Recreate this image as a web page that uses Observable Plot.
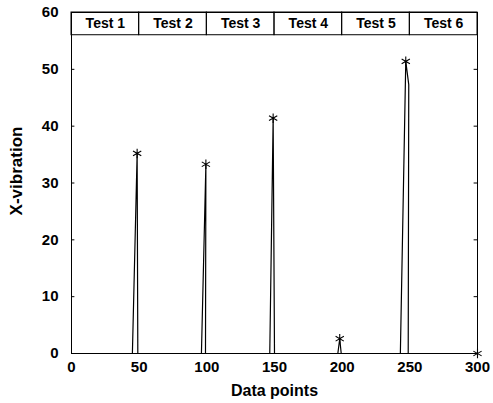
<!DOCTYPE html>
<html><head><meta charset="utf-8">
<script src="https://cdn.jsdelivr.net/npm/d3@7"></script>
<script src="https://cdn.jsdelivr.net/npm/@observablehq/plot@0.6"></script>
<style>body{margin:0;background:#fff}</style>
</head><body><div id="chart"></div>
<script>
// Vibration trace vertices (data point index, X-vibration)
const pointX    = [0, 45, 48.5, 49, 96, 99.3, 99, 146.5, 149, 150, 196.8, 198.2, 199.3, 243, 247, 249.2, 248.8, 300];
const vibration = [0, 0, 35.2, 0, 0, 33.3, 0, 0, 41.4, 0, 0, 2.6, 0, 0, 51.4, 47.3, 0, 0];
// Peak markers
const peakX = [48.5, 99.3, 149, 198.2, 247, 300];
const peakY = [35.2, 33.3, 41.4, 2.6, 51.4, 0];
// Test segments
const testLabels = ["Test 1", "Test 2", "Test 3", "Test 4", "Test 5", "Test 6"];
const testStart = [0, 50, 100, 150, 200, 250];
const testEnd = [50, 100, 150, 200, 250, 300];
const headerLow = 56, headerHigh = 60;
// Ticks
const xTicks = [0, 50, 100, 150, 200, 250, 300];
const yTicks = [0, 10, 20, 30, 40, 50, 60];

const trace = pointX.map((x, i) => ({x, y: vibration[i]}));
const peaks = peakX.map((x, i) => ({x, y: peakY[i]}));
const tests = testLabels.map((label, i) => ({label, s: testStart[i], e: testEnd[i]}));
const innerTicks = yTicks.slice(1, -1);

const chart = Plot.plot({
  width: 493, height: 403,
  marginLeft: 71, marginRight: 16, marginTop: 12, marginBottom: 50,
  x: {domain: [0, 300]},
  y: {domain: [0, 60]},
  style: {fontFamily: "'Liberation Sans', Arial, sans-serif", fontSize: "15px", fontWeight: "bold", background: "#fff", color: "#000"},
  marks: [
    Plot.axisX(xTicks, {tickSize: 0, tickPadding: 8, label: null, fontSize: 15}),
    Plot.axisY(yTicks, {tickSize: 0, tickPadding: 13, label: null, fontSize: 15}),
    Plot.ruleY(innerTicks, {x1: 0, x2: 2.5, stroke: "black"}),
    Plot.ruleY(innerTicks, {x1: 297.5, x2: 300, stroke: "black"}),
    Plot.frame({stroke: "black"}),
    Plot.rect(tests, {x1: "s", x2: "e", y1: headerLow, y2: headerHigh, stroke: "black", fill: "none"}),
    Plot.text(tests, {x: d => (d.s + d.e) / 2, y: (headerLow + headerHigh) / 2, text: "label", fontSize: 14}),
    Plot.line(trace, {x: "x", y: "y", stroke: "black", strokeWidth: 1.2}),
    Plot.dot(peaks, {x: "x", y: "y", symbol: "asterisk", r: 4.5, stroke: "black", strokeWidth: 1.1}),
    Plot.text(["Data points"], {frameAnchor: "bottom", lineAnchor: "middle", textAnchor: "middle", dy: 37, fontSize: 16}),
    Plot.text(["X-vibration"], {frameAnchor: "left", rotate: -90, lineAnchor: "middle", textAnchor: "middle", dx: -55, dy: -12, fontSize: 17})
  ]
});
document.getElementById("chart").appendChild(chart);
</script>
</body></html>
